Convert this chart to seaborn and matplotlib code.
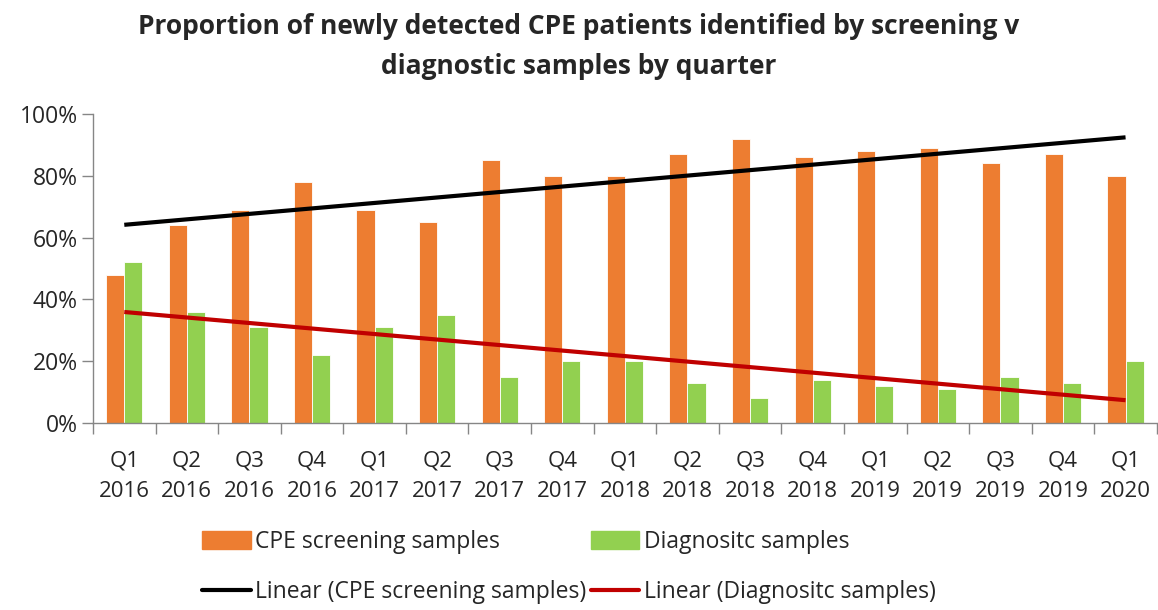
import numpy as np
import pandas as pd
import matplotlib
matplotlib.use("Agg")
import matplotlib.pyplot as plt
import seaborn as sns
from matplotlib.patches import Patch
from matplotlib.lines import Line2D
from matplotlib.ticker import PercentFormatter

quarters = ["Q1\n2016", "Q2\n2016", "Q3\n2016", "Q4\n2016",
            "Q1\n2017", "Q2\n2017", "Q3\n2017", "Q4\n2017",
            "Q1\n2018", "Q2\n2018", "Q3\n2018", "Q4\n2018",
            "Q1\n2019", "Q2\n2019", "Q3\n2019", "Q4\n2019",
            "Q1\n2020"]
screening = [48, 64, 69, 78, 69, 65, 85, 80, 80, 87, 92, 86, 88, 89, 84, 87, 80]
diagnostic = [52, 36, 31, 22, 31, 35, 15, 20, 20, 13, 8, 14, 12, 11, 15, 13, 20]

lbl_s = "CPE screening samples"
lbl_d = "Diagnositc samples"
c_s = "#ED7D31"
c_d = "#92D050"

df = pd.DataFrame({
    "quarter": quarters * 2,
    "value": screening + diagnostic,
    "series": [lbl_s] * len(quarters) + [lbl_d] * len(quarters),
})

sns.set_style("white")
plt.rcParams["font.family"] = ["Open Sans", "DejaVu Sans"]

fig = plt.figure(figsize=(11.58, 6.10), dpi=100)
ax = fig.add_axes([0.0803, 0.3066, 0.9187, 0.5065])

sns.barplot(data=df, x="quarter", y="value", hue="series",
            palette=[c_s, c_d], saturation=1, width=0.58, ax=ax, legend=False,
            edgecolor="white", linewidth=0.6)

# linear trend lines, like Excel's trendline
xs = np.arange(len(quarters))
p_s = np.polyfit(xs, screening, 1)
p_d = np.polyfit(xs, diagnostic, 1)
ax.plot(xs, np.polyval(p_s, xs), color="black", lw=3, solid_capstyle="butt")
ax.plot(xs, np.polyval(p_d, xs), color="#C00000", lw=3, solid_capstyle="butt")

ax.set_xlim(-0.5, len(quarters) - 0.5)
ax.set_ylim(0, 100)
ax.set_yticks(range(0, 101, 20))
ax.yaxis.set_major_formatter(PercentFormatter(decimals=0))
ax.set_xlabel("")
ax.set_ylabel("")

ax.set_xticks(np.arange(-0.5, len(quarters)), minor=True)
ax.tick_params(axis="x", which="major", length=0, pad=20, labelsize=16)
ax.tick_params(axis="x", which="minor", length=8, color="#868686", width=1, direction="out")
ax.tick_params(axis="y", which="major", length=8, color="#868686", width=1, labelsize=16.5, direction="out", pad=3)
ax.yaxis.set_ticks_position("left")
ax.xaxis.set_ticks_position("bottom")
for lab in ax.get_xticklabels():
    lab.set_linespacing(1.55)

sns.despine(ax=ax)
for sp in ["left", "bottom"]:
    ax.spines[sp].set_color("#868686")
    ax.spines[sp].set_linewidth(1)

fig.suptitle("Proportion of newly detected CPE patients identified by screening v\ndiagnostic samples by quarter",
             fontsize=19, fontweight="bold", y=0.978, x=0.5, linespacing=1.6)

handles = [Patch(color=c_s, label=lbl_s),
           Line2D([], [], color="black", lw=3, label="Linear (" + lbl_s + ")"),
           Patch(color=c_d, label=lbl_d),
           Line2D([], [], color="#C00000", lw=3, label="Linear (" + lbl_d + ")")]
fig.legend(handles=handles, ncol=2, loc="center left", bbox_to_anchor=(0.157, 0.07),
           frameon=False, fontsize=16.5, handlelength=2.1, handleheight=0.8,
           handletextpad=0.2, columnspacing=0.2, labelspacing=1.15)

fig.savefig("out.png", dpi=100)
